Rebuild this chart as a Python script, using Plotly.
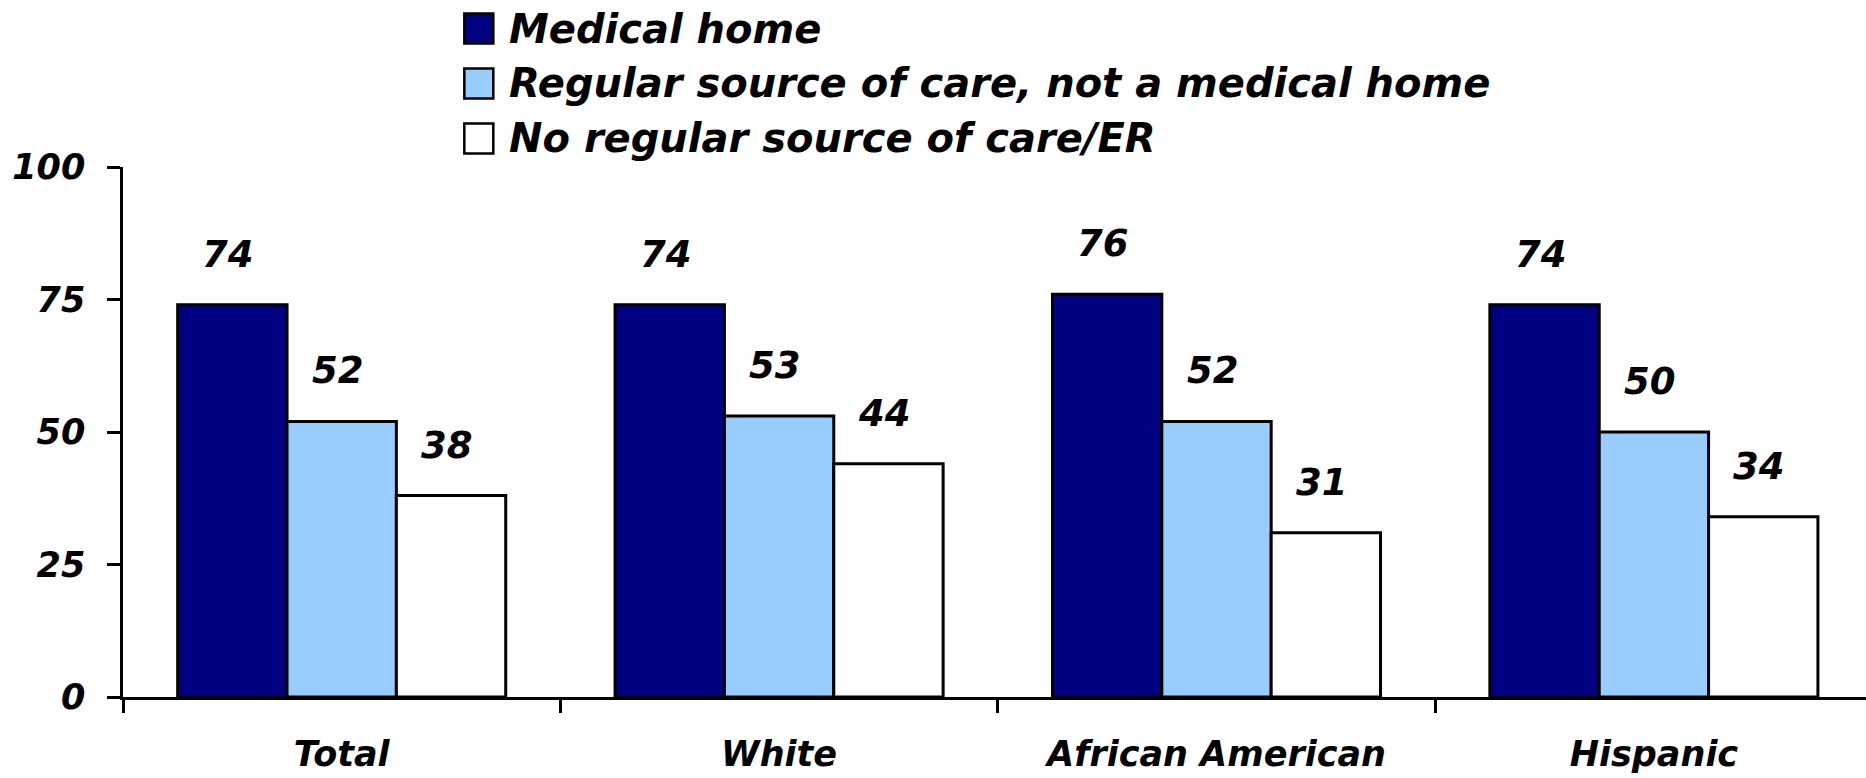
import plotly.graph_objects as go

categories = ["Total", "White", "African American", "Hispanic"]
series_names = ["Medical home",
                "Regular source of care, not a medical home",
                "No regular source of care/ER"]
medical_home = [74, 74, 76, 74]
regular_source = [52, 53, 52, 50]
no_regular = [38, 44, 31, 34]
y_ticks = [0, 25, 50, 75, 100]

series_values = [medical_home, regular_source, no_regular]
colors = ["#000080", "#99CCFF", "#FFFFFF"]

W, H = 1866, 778
L, R, T, B = 122.6, 0, 166.6, 81
FONT = "DejaVu Sans"

fig = go.Figure()
for name, vals, col in zip(series_names, series_values, colors):
    fig.add_trace(go.Bar(
        x=categories, y=vals, name=name,
        marker=dict(color=col, line=dict(color="black", width=3)),
        showlegend=False, hoverinfo="skip"))

# data labels
bar_w = 0.25
offsets = [-bar_w, 0, bar_w]
annotations = []
for k, vals in enumerate(series_values):
    for i, v in enumerate(vals):
        annotations.append(dict(
            x=i + offsets[k], y=v, xref="x", yref="y",
            text=str(v), showarrow=False, yanchor="bottom",
            yshift=27, xshift=-4,
            font=dict(family=FONT, size=37, color="black", weight="bold", style="italic")))

# manual legend (pixel layout converted to paper coords)
pw = W - L - R
ph = H - T - B
def px(xp):
    return (xp - L) / pw
def py(yp):
    return (H - B - yp) / ph

shapes = []
row_centers = [28, 83, 138]
for name, col, yc in zip(series_names, colors, row_centers):
    shapes.append(dict(type="rect", xref="paper", yref="paper",
                       x0=px(464), x1=px(493), y0=py(yc + 15), y1=py(yc - 15),
                       fillcolor=col, line=dict(color="black", width=2.5)))
    annotations.append(dict(
        x=px(507), y=py(yc), xref="paper", yref="paper", text=name,
        showarrow=False, xanchor="left", yanchor="middle",
        font=dict(family=FONT, size=40, color="black", weight="bold", style="italic")))

fig.update_layout(
    width=W, height=H,
    margin=dict(l=L, r=R, t=T, b=B, autoexpand=False),
    paper_bgcolor="white", plot_bgcolor="white",
    barmode="group", bargap=0.25, bargroupgap=0,
    shapes=shapes, annotations=annotations,
    font=dict(family=FONT, color="black"),
    xaxis=dict(
        range=[-0.5, -0.5 + pw / 437.5], showgrid=False, zeroline=False,
        showline=True, linecolor="black", linewidth=3,
        ticks="outside", tickson="boundaries", ticklen=13, tickwidth=2.5,
        tickcolor="black", ticklabelstandoff=24,
        tickfont=dict(family=FONT, size=35, color="black", weight="bold", style="italic"),
        fixedrange=True),
    yaxis=dict(
        range=[0, 100], tickvals=y_ticks, showgrid=False, zeroline=False,
        showline=True, linecolor="black", linewidth=2.5,
        ticks="outside", ticklen=13, tickwidth=2.5, tickcolor="black",
        ticklabelstandoff=15,
        tickfont=dict(family=FONT, size=35, color="black", weight="bold", style="italic"),
        fixedrange=True),
)

fig.write_html("out.html", config={"displayModeBar": False})
